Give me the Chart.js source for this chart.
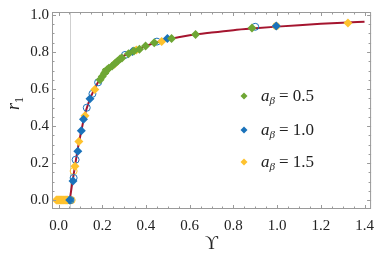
<!DOCTYPE html>
<html>
<head>
<meta charset="utf-8">
<script src="https://cdn.jsdelivr.net/npm/chart.js@4.4.1/dist/chart.umd.min.js"></script>
<style>
  html, body { margin: 0; padding: 0; background: #fff; }
</style>
</head>
<body>
<canvas id="grafico" width="382" height="261"></canvas>
<script>
// curva teorica
const curveX = [0.051, 0.06, 0.07, 0.08, 0.09, 0.10, 0.12, 0.14, 0.16, 0.18, 0.20, 0.25, 0.30, 0.35, 0.40, 0.45, 0.50, 0.60, 0.70, 0.80, 0.90, 1.00, 1.10, 1.20, 1.30, 1.40];
const curveY = [0, 0.07, 0.145, 0.22, 0.29, 0.35, 0.46, 0.535, 0.59, 0.635, 0.668, 0.73, 0.78, 0.808, 0.833, 0.853, 0.868, 0.89, 0.905, 0.918, 0.928, 0.937, 0.945, 0.952, 0.958, 0.963];

// a_beta = 0.5
const greenX = [0.19, 0.20, 0.21, 0.222, 0.23, 0.245, 0.26, 0.27, 0.282, 0.29, 0.32, 0.345, 0.37, 0.398, 0.438, 0.517, 0.627, 0.885];
const greenY = [0.65, 0.668, 0.685, 0.704, 0.712, 0.725, 0.74, 0.75, 0.763, 0.768, 0.79, 0.805, 0.815, 0.833, 0.85, 0.873, 0.895, 0.93];
// a_beta = 1.0
const blueX = [0.051, 0.066, 0.088, 0.104, 0.114, 0.144, 0.338, 0.498, 0.996];
const blueY = [0, 0.103, 0.264, 0.374, 0.437, 0.547, 0.802, 0.873, 0.94];
// a_beta = 1.5
const yellowX = [-0.01, -0.005, 0.0, 0.005, 0.01, 0.015, 0.02, 0.025, 0.03, 0.035, 0.04, 0.075, 0.093, 0.121, 0.166, 0.255, 0.356, 0.472, 1.324];
const yellowY = [0, 0, 0, 0, 0, 0, 0, 0, 0, 0, 0, 0.183, 0.317, 0.455, 0.597, 0.734, 0.811, 0.856, 0.957];

// marcadores abiertos
const blueOpenX = [0.055, 0.069, 0.078, 0.129, 0.155, 0.181, 0.304, 0.45, 0.90];
const blueOpenY = [0, 0.12, 0.218, 0.499, 0.574, 0.636, 0.784, 0.856, 0.936];
const yellowOpenX = [0.06, 0.069, 0.996];
const yellowOpenY = [0, 0.157, 0.94];
const greenOpenX = [0.05, 0.215];
const greenOpenY = [0, 0.695];

const critX = 0.051;
const xTicks = [0, 0.2, 0.4, 0.6, 0.8, 1.0, 1.2, 1.4];
const yTicks = [0, 0.2, 0.4, 0.6, 0.8, 1.0];
const legendLabels = ['0.5', '1.0', '1.5'];

const GREEN = '#6ea634', BLUE = '#1a72ba', YELLOW = '#fec22e', RED = '#a5152f';

function pts(xs, ys) {
  return xs.map((x, i) => ({ x: x, y: ys[i] }));
}

const serif = '"Liberation Serif", "DejaVu Serif", serif';

const decor = {
  id: 'decor',
  beforeDatasetsDraw(chart) {
    const { ctx, chartArea: a, scales } = chart;
    ctx.save();
    ctx.strokeStyle = '#cfcfcf';
    ctx.lineWidth = 1;
    const cx = Math.round(scales.x.getPixelForValue(critX)) + 0.5;
    ctx.beginPath();
    ctx.moveTo(cx, a.top);
    ctx.lineTo(cx, a.bottom);
    ctx.stroke();
    ctx.restore();
  },
  afterDatasetsDraw(chart) {
    const { ctx, chartArea: a, scales } = chart;
    ctx.save();
    // marco
    ctx.strokeStyle = '#9a9a9a';
    ctx.lineWidth = 1;
    ctx.strokeRect(a.left + 0.5, a.top + 0.5, a.right - a.left - 1, a.bottom - a.top - 1);
    ctx.beginPath();
    for (let i = 0; i <= 28; i++) {
      const v = i * 0.05;
      const px = Math.round(scales.x.getPixelForValue(v)) + 0.5;
      const len = i % 4 === 0 ? 4 : 2.5;
      ctx.moveTo(px, a.bottom); ctx.lineTo(px, a.bottom - len);
      ctx.moveTo(px, a.top); ctx.lineTo(px, a.top + len);
    }
    for (let i = 0; i <= 20; i++) {
      const v = i * 0.05;
      const py = Math.round(scales.y.getPixelForValue(v)) + 0.5;
      const len = i % 4 === 0 ? 4 : 2.5;
      ctx.moveTo(a.left, py); ctx.lineTo(a.left + len, py);
      ctx.moveTo(a.right, py); ctx.lineTo(a.right - len, py);
    }
    ctx.stroke();

    // leyenda
    const colors = [GREEN, BLUE, YELLOW];
    const rows = [96, 130, 162];
    for (let i = 0; i < 3; i++) {
      const y = rows[i];
      ctx.fillStyle = colors[i];
      ctx.beginPath();
      ctx.moveTo(244, y - 3.5); ctx.lineTo(247.5, y); ctx.lineTo(244, y + 3.5); ctx.lineTo(240.5, y);
      ctx.closePath();
      ctx.fill();
      ctx.fillStyle = '#222';
      ctx.textBaseline = 'alphabetic';
      ctx.textAlign = 'left';
      let x = 261;
      ctx.font = 'italic 17px ' + serif;
      ctx.fillText('a', x, y + 5);
      x += ctx.measureText('a').width;
      ctx.font = 'italic 11px ' + serif;
      ctx.fillText('β', x, y + 8);
      x += ctx.measureText('β').width + 4;
      ctx.font = '17px ' + serif;
      ctx.fillText('= ' + legendLabels[i], x, y + 5);
    }

    // titulos de ejes
    ctx.fillStyle = '#222';
    ctx.textAlign = 'center';
    ctx.font = '18px ' + serif;
    ctx.fillText('ϒ', (a.left + a.right) / 2, 249);
    ctx.translate(19, 104);
    ctx.rotate(-Math.PI / 2);
    ctx.textAlign = 'left';
    ctx.font = 'italic 18px ' + serif;
    ctx.fillText('r', -6, 0);
    ctx.font = '12px ' + serif;
    ctx.fillText('1', 1, 4);
    ctx.restore();
  }
};

const ctx2 = document.getElementById('grafico').getContext('2d');

new Chart(ctx2, {
  type: 'scatter',
  data: {
    datasets: [
      { data: pts(greenX, greenY), pointStyle: 'rectRot', pointRadius: 4.5, backgroundColor: GREEN, borderWidth: 0 },
      { data: pts(blueX, blueY), pointStyle: 'rectRot', pointRadius: 4.5, backgroundColor: BLUE, borderWidth: 0 },
      { data: pts(yellowX, yellowY), pointStyle: 'rectRot', pointRadius: 4.5, backgroundColor: YELLOW, borderWidth: 0 },
      { data: pts(blueOpenX, blueOpenY), pointStyle: 'circle', pointRadius: 3.5, backgroundColor: 'rgba(255,255,255,0)', borderColor: BLUE, borderWidth: 1 },
      { data: pts(yellowOpenX, yellowOpenY), pointStyle: 'circle', pointRadius: 3.5, backgroundColor: 'rgba(255,255,255,0)', borderColor: YELLOW, borderWidth: 1 },
      { data: pts(greenOpenX, greenOpenY), pointStyle: 'circle', pointRadius: 3.5, backgroundColor: 'rgba(255,255,255,0)', borderColor: GREEN, borderWidth: 1 },
      { data: pts(curveX, curveY), showLine: true, pointRadius: 0, borderColor: RED, borderWidth: 2, tension: 0.4, cubicInterpolationMode: 'monotone' }
    ]
  },
  options: {
    responsive: false,
    animation: false,
    events: [],
    layout: { padding: { top: 9, right: 5, left: 0, bottom: 0 } },
    plugins: { legend: { display: false }, tooltip: { enabled: false } },
    scales: {
      x: {
        type: 'linear', min: -0.03, max: 1.43,
        grid: { display: false, drawTicks: false },
        border: { display: false },
        afterBuildTicks: s => { s.ticks = xTicks.map(v => ({ value: v })); },
        afterFit: s => { s.height = 52; },
        ticks: { color: '#222', font: { family: serif, size: 15 }, padding: 8, maxRotation: 0, callback: v => v.toFixed(1) }
      },
      y: {
        type: 'linear', min: -0.048, max: 1.016,
        grid: { display: false, drawTicks: false },
        border: { display: false },
        afterBuildTicks: s => { s.ticks = yTicks.map(v => ({ value: v })); },
        afterFit: s => { s.width = 52; },
        ticks: { color: '#222', font: { family: serif, size: 15 }, padding: 3, callback: v => v.toFixed(1) }
      }
    }
  },
  plugins: [decor]
});
</script>
</body>
</html>
